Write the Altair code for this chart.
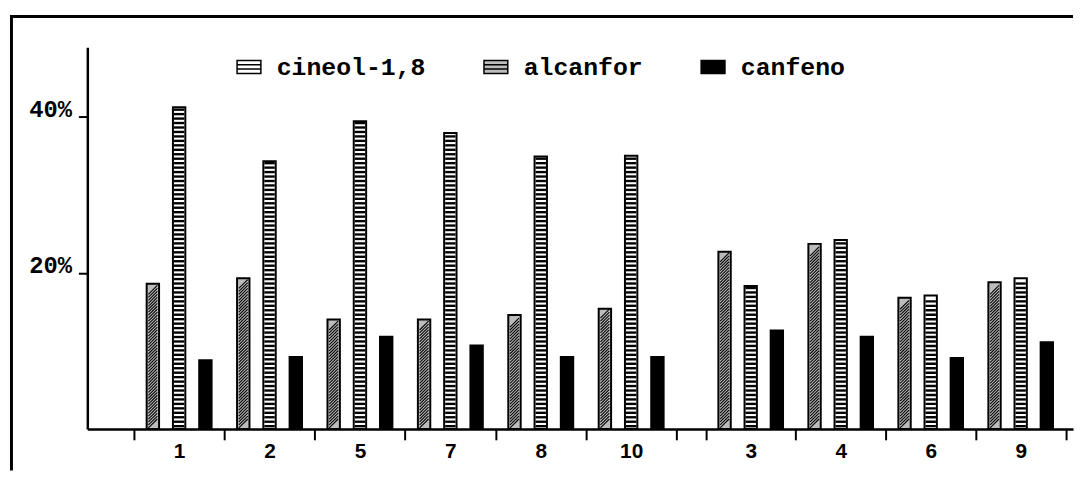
import altair as alt
import pandas as pd

groups_left = ["1", "2", "5", "7", "8", "10"]
groups_right = ["3", "4", "6", "9"]
groups = groups_left + groups_right
series_names = ["cineol-1,8", "alcanfor", "canfeno"]
cineol = [41.2, 34.3, 39.4, 37.9, 34.9, 35.0, 18.3, 24.2, 17.1, 19.3]
alcanfor = [18.6, 19.3, 14.0, 14.0, 14.6, 15.4, 22.7, 23.7, 16.8, 18.8]
canfeno = [8.8, 9.2, 11.8, 10.7, 9.2, 9.2, 12.6, 11.8, 9.1, 11.1]
y_ticks = [20, 40]

rows = []
for i, g in enumerate(groups):
    for s, vals in zip(series_names, [cineol, alcanfor, canfeno]):
        rows.append({"group": g, "series": s, "value": vals[i]})
df = pd.DataFrame(rows)

bar_order = ["alcanfor", "cineol-1,8", "canfeno"]
fills = ["#ffffff", "#bcbcbc", "#000000"]
YMAX = 48.9
H = 385
MONO = "Liberation Mono"
SANS = "Liberation Sans"
LEG_PATH = "M-1,-0.55H1V0.55H-1Z M-1,-0.18H1 M-1,0.18H1"


def panel(gs, width, pad_outer, align, first):
    data = df[df["group"].isin(gs)]
    x_axis = alt.Axis(
        title=None, labelAngle=0, tickBand="extent", domainColor="black",
        domainWidth=2.5, tickColor="black", tickWidth=2, tickSize=11,
        labelFont=SANS, labelFontSize=21, labelFontWeight="bold",
        labelColor="black", labelPadding=0.5, grid=False,
    )
    xenc = alt.X("group:N", sort=gs, axis=x_axis,
                 scale=alt.Scale(domain=gs, paddingInner=0,
                                 paddingOuter=pad_outer, align=align))
    xoff = alt.XOffset("series:N", sort=bar_order,
                       scale=alt.Scale(domain=bar_order, paddingInner=0.528,
                                       paddingOuter=0.485))
    if first:
        y_axis = alt.Axis(
            values=y_ticks, labelExpr="datum.value + '%'", title=None,
            grid=False, tickSize=9, tickWidth=2, tickColor="black",
            domainColor="black", domainWidth=2.5, labelFont=MONO,
            labelFontSize=24, labelFontWeight="bold", labelColor="black",
            labelBaseline="alphabetic", labelPadding=7,
        )
        legend = alt.Legend(
            title=None, orient="none", legendX=150, legendY=7,
            direction="horizontal", columns=3, symbolType=LEG_PATH,
            symbolSize=576, symbolStrokeColor="black", symbolStrokeWidth=1.5,
            symbolOpacity=1, labelFont=MONO, labelFontSize=25,
            labelFontWeight="bold", labelColor="black", labelOffset=15,
            columnPadding=55, labelLimit=400,
        )
    else:
        y_axis = None
        legend = None
    yscale = alt.Scale(domain=[0, YMAX], nice=False, zero=True)
    yenc = alt.Y("value:Q", scale=yscale, axis=y_axis)

    bars = alt.Chart(data).mark_bar(stroke="black", strokeWidth=2).encode(
        x=xenc, xOffset=xoff, y=yenc,
        fill=alt.Fill("series:N", scale=alt.Scale(domain=series_names, range=fills),
                      legend=legend),
    )
    stripes = alt.Chart(data).transform_filter(
        alt.datum.series == "cineol-1,8"
    ).transform_calculate(
        stripe="sequence(0.35, datum.value - 0.2, 0.571)"
    ).transform_flatten(["stripe"]).mark_tick(
        orient="horizontal", color="black", size=10.5, thickness=2.4, opacity=1
    ).encode(
        x=xenc, xOffset=xoff,
        y=alt.Y("stripe:Q", scale=yscale, axis=y_axis),
    )
    hatch = alt.Chart(data).transform_filter(
        alt.datum.series == "alcanfor"
    ).transform_calculate(
        h="sequence(0.7, datum.value - 0.62, 0.38)"
    ).transform_flatten(["h"]).mark_point(
        shape="M-1,1L1,-1", size=81, filled=False, color="black",
        strokeWidth=1.1, opacity=1
    ).encode(
        x=xenc, xOffset=xoff,
        y=alt.Y("h:Q", scale=yscale, axis=y_axis),
    )
    layers = [bars, stripes, hatch]
    if first:
        frame_data = pd.DataFrame({"k": [0]})
        left_line = alt.Chart(frame_data).mark_rule(color="black", strokeWidth=3).encode(
            x=alt.value(-76.5), y=alt.value(-31), y2=alt.value(427)
        )
        top_line = alt.Chart(frame_data).mark_rule(color="black", strokeWidth=3).encode(
            x=alt.value(-78), x2=alt.value(994), y=alt.value(-31)
        )
        layers += [left_line, top_line]
    return alt.layer(*layers).properties(width=width, height=H)


left = panel(groups_left, 594, 0.2577, 1, True)
right = panel(groups_right, 400, 0.2039, 0.8, False)

chart = alt.hconcat(left, right, spacing=0, bounds="flush").resolve_scale(
    x="independent", y="independent", fill="independent", xOffset="independent"
).properties(
    padding={"left": 0, "top": 4.5, "right": 0, "bottom": 0},
    background="white",
).configure_view(stroke=None)

chart.save("out.html", embed_options={"renderer": "svg", "actions": False})
